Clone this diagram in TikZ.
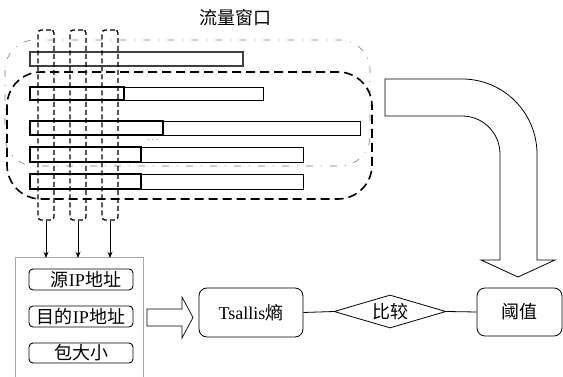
\documentclass[tikz,border=0pt]{standalone}
\usepackage{fontspec}
\setmainfont{Liberation Serif}
\newfontfamily\cjk{Noto Sans CJK SC}
\newcommand\zh[1]{{\cjk #1}}
\usetikzlibrary{shapes.geometric,arrows.meta}
\tikzset{
  colbox/.style={draw, line width=1.3pt, dash pattern=on 5pt off 3pt, rounded corners=3pt,
    minimum width=16pt, minimum height=190pt, inner sep=0pt},
  fieldbox/.style={draw, line width=0.9pt, rounded corners=4pt, minimum width=104pt,
    minimum height=21pt, inner sep=0pt},
  roundbox/.style={draw, line width=0.8pt, rounded corners=8pt, inner sep=0pt},
  arr/.style={line width=0.8pt, -{Stealth[length=6pt,width=5pt]}},
  thinbar/.style={line width=0.8pt},
  thickbar/.style={line width=1.5pt},
}
\begin{document}
\begin{tikzpicture}[x=1pt,y=-1pt,font=\fontsize{18}{20}\selectfont]
\useasboundingbox (0,0) rectangle (563,377);

\node (title) at (235,18) {\zh{流量窗口}};

% windows
\draw[gray, line width=0.6pt, dash pattern=on 7pt off 8pt on 1pt off 8pt, rounded corners=30pt]
  (5,40) rectangle (370,166);
\draw[line width=1.6pt, dash pattern=on 9pt off 5pt, rounded corners=34pt]
  (7,72) rectangle (372,199);

% bars
\draw[line width=1.8pt, black!75] (30,52) rectangle (243,66);
\foreach \yt/\yb/\dv/\rt in {87/100/124/263, 121/135/163/360, 147/162/141/303, 174/189/141/303}{
  \draw[thinbar] (\dv,\yt) rectangle (\rt,\yb);
  \draw[thickbar] (30,\yt) rectangle (\dv,\yb);
}
\node[font=\fontsize{9}{10}\selectfont] (dots) at (153,140) {$\cdots$};

% columns
\node[colbox] (c1) at (46,125) {};
\node[colbox] (c2) at (78,125) {};
\node[colbox] (c3) at (110,125) {};

% feature box
\node[minimum width=127pt, minimum height=120pt, inner sep=0pt] (feat) at (79.5,318) {};
\draw[gray!70, line width=0.8pt] (feat.south west) -- (feat.north west) -- (feat.north east) -- (feat.south east);

\draw[arr] (c1.south) -- (c1.south |- feat.north);
\draw[arr] (c2.south) -- (c2.south |- feat.north);
\draw[arr] (c3.south) -- (c3.south |- feat.north);

\node[fieldbox] (src) at (81,279.5) {\hspace{10pt}\zh{源}IP\zh{地址}};
\node[fieldbox] (dst) at (81,316.5) {\zh{目的}IP\zh{地址}};
\node[fieldbox, minimum height=20pt] (pkt) at (81,353) {\zh{包大小}};

% hollow straight arrow
\draw[line width=0.7pt] (147,309) -- (182,309) -- (182,297) -- (193,317.5) -- (182,338) -- (182,326) -- (147,326) -- cycle;

\node[roundbox, minimum width=104pt, minimum height=49pt] (ts) at (251,312.5) {Tsallis\zh{熵}};
\node[draw, diamond, line width=0.8pt, shape aspect=3.4, inner sep=0pt, minimum width=112pt, minimum height=33pt] (cmp) at (390,311.5) {\zh{比较}};
\node[roundbox, minimum width=85pt, minimum height=48pt] (thr) at (519.5,312) {\zh{阈值}};

\draw[line width=0.8pt] (ts.east) -- (cmp.west);
\draw[line width=0.8pt] (cmp.east) -- (thr.west);

% curved hollow arrow
\draw[line width=0.8pt] (385,79) -- (462,79)
  .. controls (503.4,79) and (537,112.6) .. (537,154)
  -- (537,260) -- (555,260) -- (518,277) -- (481,260) -- (500,260) -- (500,154)
  .. controls (500,133) and (483,116) .. (462,116)
  -- (385,116) -- cycle;
\end{tikzpicture}
\end{document}
